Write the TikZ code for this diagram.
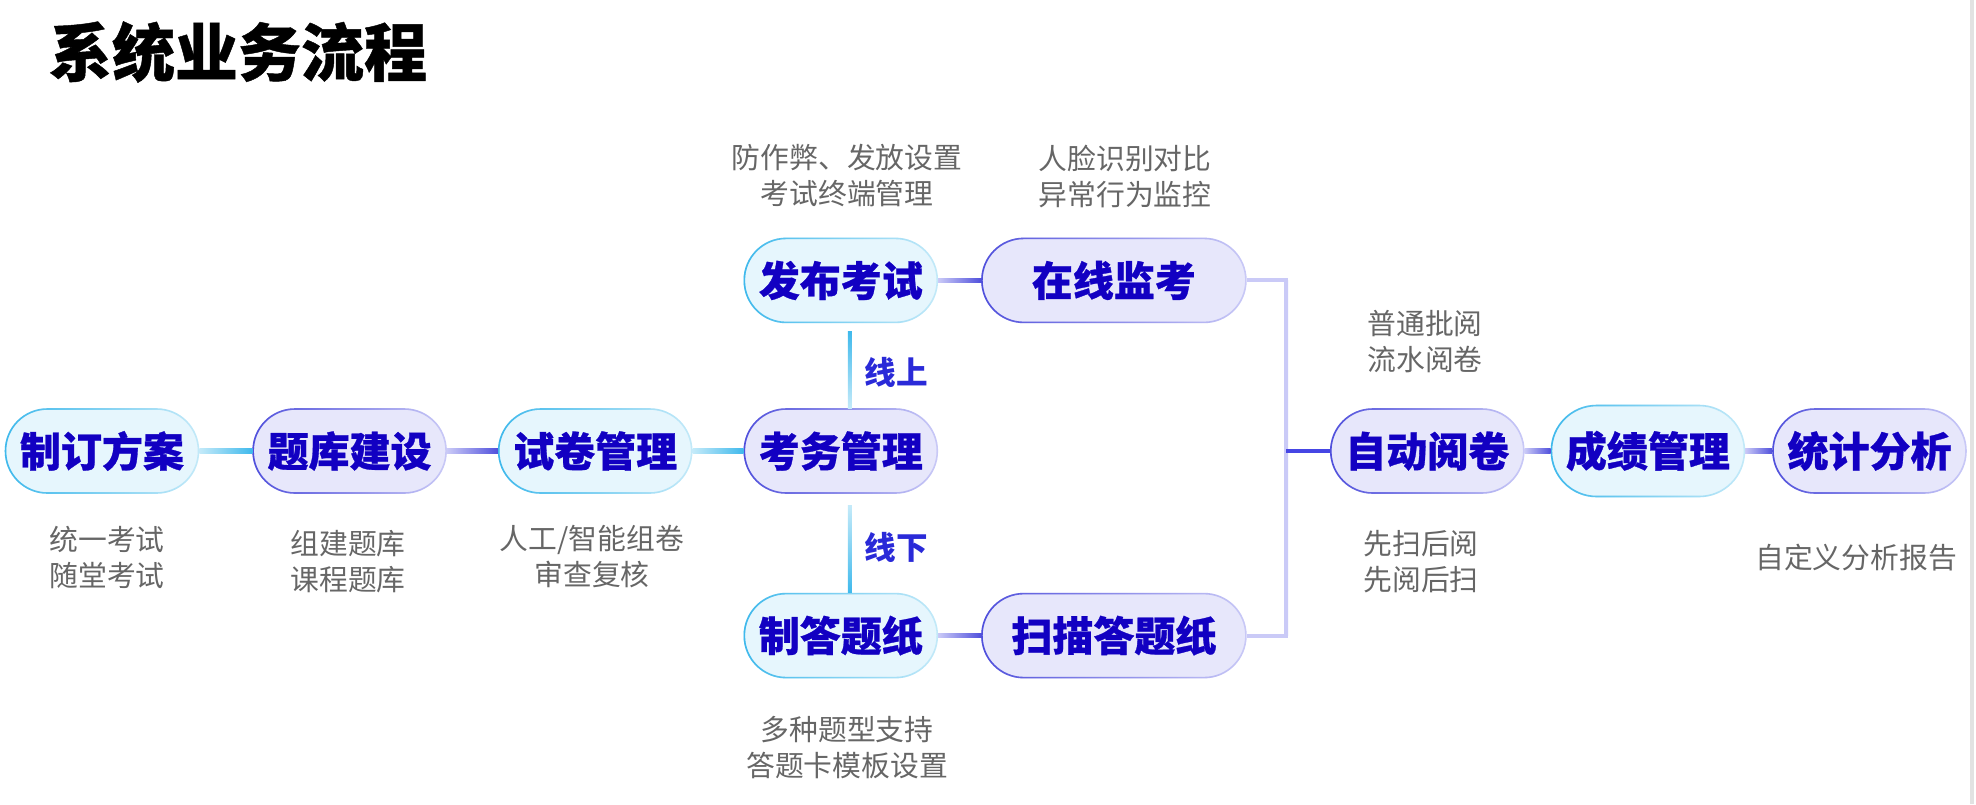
\documentclass[tikz,border=0pt]{standalone}
\usepackage{fontspec}
\setmainfont{Noto Sans CJK SC}
\newfontfamily\flowheavy{Noto Sans CJK SC}[BoldFeatures={FakeBold=0.7}]
\usetikzlibrary{positioning,calc,fadings}

\definecolor{cyanfill}{HTML}{E6F6FD}
\definecolor{cyandark}{HTML}{3FB9EC}
\definecolor{cyanlight}{HTML}{C4EAF9}
\definecolor{lavfill}{HTML}{E7E7FB}
\definecolor{lavdark}{HTML}{5050DC}
\definecolor{lavlight}{HTML}{CACAF7}
\definecolor{boxtext}{HTML}{1200C2}
\definecolor{notegray}{HTML}{666666}
\definecolor{tagblue}{HTML}{2A2AD8}
\definecolor{brkdark}{HTML}{4646E4}
\definecolor{edgegray}{HTML}{E2E2E2}

\tikzfading[name=boxfade, left color=transparent!0, right color=transparent!100]

\newcommand{\flowboxfont}{\flowheavy\bfseries\fontsize{20.5pt}{24pt}\selectfont}
\newcommand{\flownotefont}{\fontsize{14.4pt}{18pt}\selectfont}
\newcommand{\flowtagfont}{\bfseries\fontsize{15.8pt}{18pt}\selectfont}
\newcommand{\flowtitlefont}{\flowheavy\bfseries\fontsize{31.5pt}{36pt}\selectfont}

\begin{document}
\begin{tikzpicture}[x=0.5pt,y=-0.5pt,
	box/.style={rectangle,rounded corners=20.9pt,minimum width=96.5pt,minimum height=42pt,inner sep=0pt,line width=0.8pt,text=boxtext,font=\flowboxfont},
	cyanbox/.style={box,fill=cyanfill,draw=cyanlight,postaction={draw=cyandark,path fading=boxfade}},
	lavbox/.style={box,fill=lavfill,draw=lavlight,postaction={draw=lavdark,path fading=boxfade}},
	widebox/.style={minimum width=132pt},
	note/.style={align=center,text=notegray,font=\flownotefont,inner sep=0pt},
	tag/.style={text=tagblue,font=\flowtagfont,inner sep=0pt},
	cyanlink/.style={left color=cyanlight,right color=cyandark},
	lavlink/.style={left color=lavlight,right color=lavdark}]

	\useasboundingbox (0,0) rectangle (1976,804);
	\draw[line width=2pt,edgegray] (1972,0) -- (1972,804);

	\node[font=\flowtitlefont] (title) at (238,52) {系统业务流程};

	\node[cyanbox] (zd) at (102,451) {制订方案};
	\node[lavbox] (tk) [right=26.5pt of zd] {题库建设};
	\node[cyanbox] (sj) [right=25.5pt of tk] {试卷管理};
	\node[lavbox] (kw) [right=25.5pt of sj] {考务管理};
	\node[cyanbox] (fb) [above=42.5pt of kw] {发布考试};
	\node[cyanbox] (zdt) [below=49.5pt of kw] {制答题纸};
	\node[lavbox,widebox] (zxjk) [right=21.5pt of fb] {在线监考};
	\node[lavbox,widebox] (smdt) [right=21.5pt of zdt] {扫描答题纸};
	\coordinate (brk) at (1286,451);
	\node[lavbox] (zdyj) at (brk) [right=22pt] {自动阅卷};
	\node[cyanbox,minimum height=45.5pt,rounded corners=22.6pt] (cj) [right=13pt of zdyj] {成绩管理};
	\node[lavbox] (tj) [right=13.5pt of cj] {统计分析};

	\node[tag] (online) at (896,372) {线上};
	\node[tag] (offline) at (896,547) {线下};

	\shade[cyanlink] ([yshift=-1.1pt]zd.east) rectangle ([yshift=1.1pt]tk.west);
	\shade[lavlink] ([yshift=-1.1pt]tk.east) rectangle ([yshift=1.1pt]sj.west);
	\shade[cyanlink] ([yshift=-1.1pt]sj.east) rectangle ([yshift=1.1pt]kw.west);
	\shade[top color=cyandark,bottom color=cyanlight] ([xshift=3.5pt,yshift=-4pt]fb.south) rectangle ([xshift=5.5pt]kw.north);
	\shade[top color=cyanlight,bottom color=cyandark] ([xshift=3.5pt,yshift=-6pt]kw.south) rectangle ([xshift=5.5pt]zdt.north);
	\shade[lavlink] ([yshift=-1.1pt]fb.east) rectangle ([yshift=1.1pt]zxjk.west);
	\shade[lavlink] ([yshift=-1.1pt]zdt.east) rectangle ([yshift=1.1pt]smdt.west);
	\draw[line width=2pt,lavlight] (zxjk.east) -- (zxjk.east -| brk) -- (smdt.east -| brk) -- (smdt.east);
	\shade[top color=lavlight,middle color=brkdark,bottom color=lavlight] ($(zxjk.east -| brk)+(-2,0)$) rectangle ($(smdt.east -| brk)+(2,0)$);
	\draw[line width=2.2pt,brkdark] (brk) -- (zdyj.west);
	\shade[lavlink] ([yshift=-1.1pt]zdyj.east) rectangle ([yshift=1.1pt]cj.west);
	\shade[lavlink] ([yshift=-1.1pt]cj.east) rectangle ([yshift=1.1pt]tj.west);

	\begin{scope}[every node/.style={note}]
		\node (zdnote) at (107,557) {统一考试\\随堂考试};
		\node (tknote) at (348,562) {组建题库\\课程题库};
		\node (sjnote) at (592,557) {人工/智能组卷\\审查复核};
		\node (fbnote) at (847,176) {防作弊、发放设置\\考试终端管理};
		\node (zxnote) at (1125,176) {人脸识别对比\\异常行为监控};
		\node (zdtnote) at (847,748) {多种题型支持\\答题卡模板设置};
		\node (yjtop) at (1425,342) {普通批阅\\流水阅卷};
		\node (yjbot) at (1421,562) {先扫后阅\\先阅后扫};
		\node (tjnote) at (1856,558) {自定义分析报告};
	\end{scope}

\end{tikzpicture}
\end{document}
